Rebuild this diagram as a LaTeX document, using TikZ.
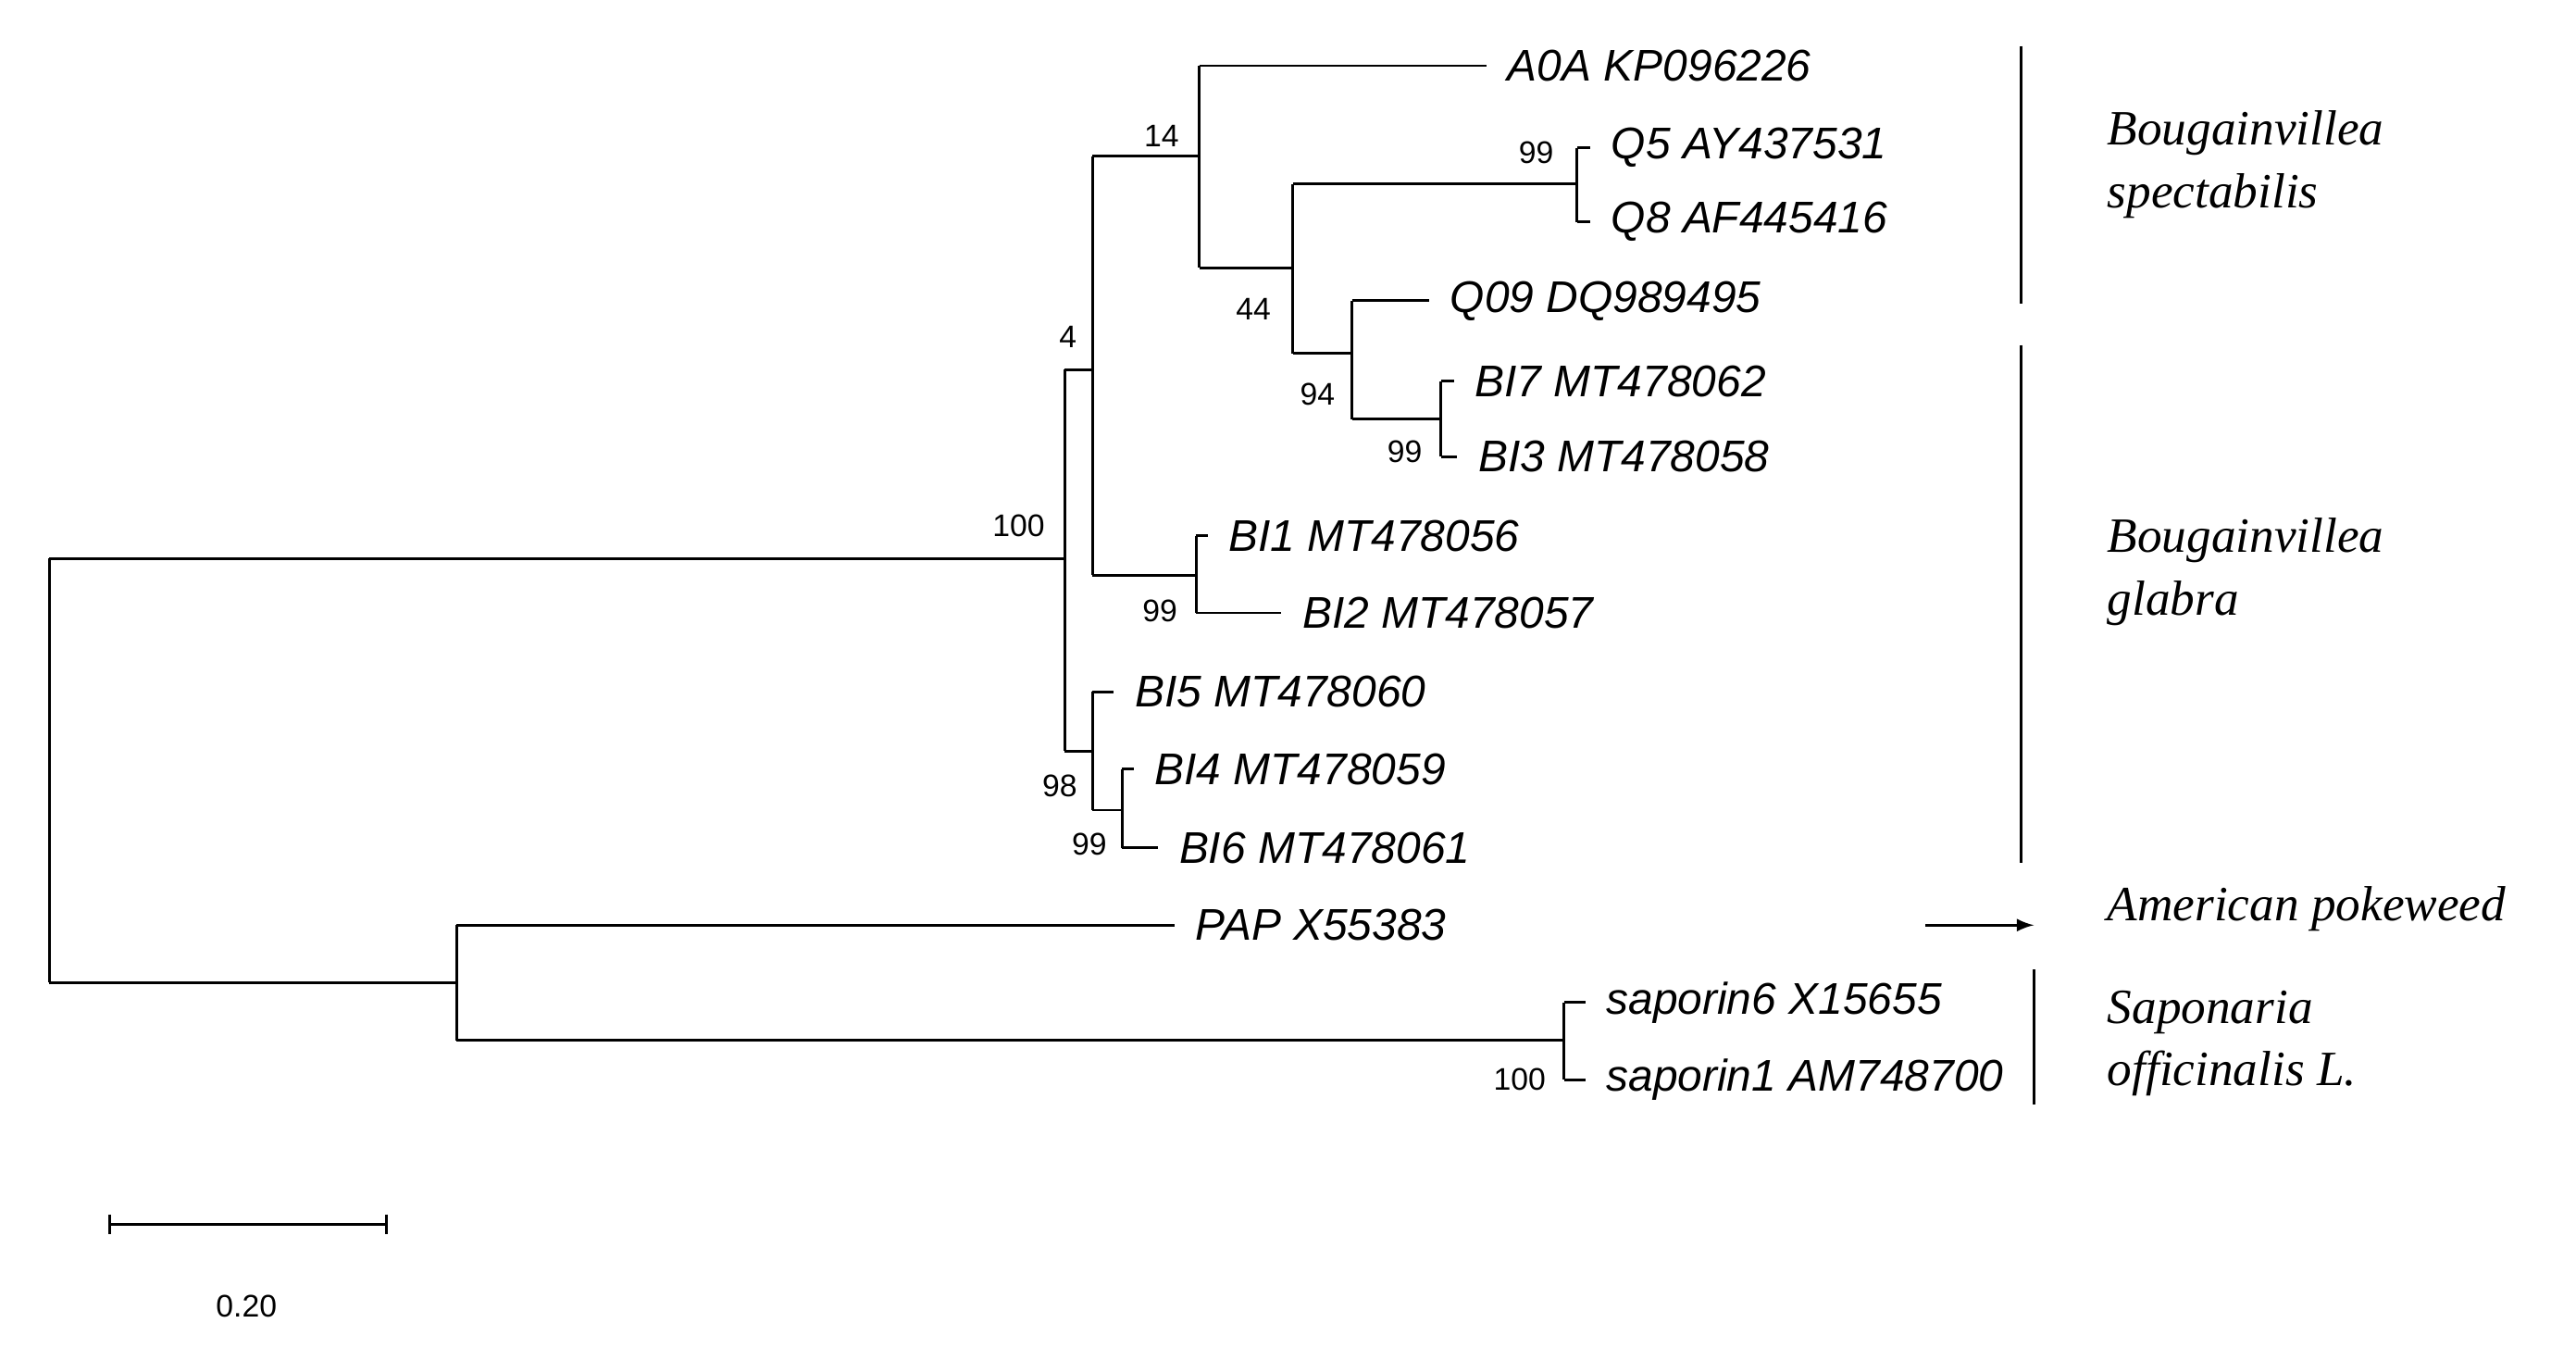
\documentclass[tikz,border=0pt]{standalone}
\usepackage{fontspec}
\setmainfont{Liberation Serif}
\setsansfont{Liberation Sans}
\begin{document}
\begin{tikzpicture}[x=0.5pt,y=-0.5pt,line width=0.8pt,
 leaf/.style={anchor=west,font=\sffamily\itshape\fontsize{13.5}{14}\selectfont,inner sep=0pt,xshift=6pt},
 bs/.style={font=\sffamily\fontsize{9.5}{10}\selectfont,inner sep=1pt},
 sp/.style={anchor=west,font=\itshape\fontsize{15}{19}\selectfont,align=left,inner sep=0pt}]
\useasboundingbox (0,0) rectangle (1568,820);
% root
\draw (30,340) -- (30,598);
\draw (30,340) -- (648,340); \draw (30,598) -- (278,598);
% Bougainvillea clade
\draw (648,225) -- (648,457);
\draw (648,225) -- (665,225); \draw (648,457) -- (665,457);
\draw (665,95) -- (665,350);
\draw (665,95) -- (730,95); \draw (665,350) -- (728,350);
\draw (730,40) -- (730,163);
\draw (730,40) -- (905,40); \draw (730,163) -- (787,163);
\draw (787,112) -- (787,215);
\draw (787,112) -- (960,112); \draw (787,215) -- (823,215);
\draw (960,90) -- (960,135);
\draw (960,90) -- (968,90); \draw (960,135) -- (968,135);
\draw (823,183) -- (823,255);
\draw (823,183) -- (870,183); \draw (823,255) -- (877,255);
\draw (877,232) -- (877,278);
\draw (877,232) -- (885,232); \draw (877,278) -- (887,278);
\draw (728,326) -- (728,373);
\draw (728,326) -- (735,326); \draw (728,373) -- (780,373);
\draw (665,421) -- (665,493);
\draw (665,421) -- (678,421); \draw (665,493) -- (683,493);
\draw (683,468) -- (683,516);
\draw (683,468) -- (690,468); \draw (683,516) -- (705,516);
% lower clade
\draw (278,563) -- (278,633);
\draw (278,563) -- (715,563); \draw (278,633) -- (952,633);
\draw (952,610) -- (952,657);
\draw (952,610) -- (965,610); \draw (952,657) -- (965,657);
% leaves
\node[leaf] (l1) at (905,40) {A0A KP096226};
\node[leaf] (l2) at (968,90) {Q5 AY437531};
\node[leaf] (l3) at (968,135) {Q8 AF445416};
\node[leaf] (l4) at (870,183) {Q09 DQ989495};
\node[leaf] (l5) at (885,232) {BI7 MT478062};
\node[leaf] (l6) at (887,278) {BI3 MT478058};
\node[leaf] (l7) at (735,326) {BI1 MT478056};
\node[leaf] (l8) at (780,373) {BI2 MT478057};
\node[leaf] (l9) at (678,421) {BI5 MT478060};
\node[leaf] (l10) at (690,468) {BI4 MT478059};
\node[leaf] (l11) at (705,516) {BI6 MT478061};
\node[leaf] (l12) at (715,563) {PAP X55383};
\node[leaf] (l13) at (965,610) {saporin6 X15655};
\node[leaf] (l14) at (965,657) {saporin1 AM748700};
% bootstrap
\node[bs] (b1) at (620,320) {100};
\node[bs] (b2) at (650,205) {4};
\node[bs] (b3) at (707,83) {14};
\node[bs] (b4) at (935,93) {99};
\node[bs] (b5) at (763,188) {44};
\node[bs] (b6) at (802,240) {94};
\node[bs] (b7) at (855,275) {99};
\node[bs] (b8) at (706,372) {99};
\node[bs] (b9) at (645,478) {98};
\node[bs] (b10) at (663,514) {99};
\node[bs] (b11) at (925,657) {100};
% species bars
\draw (1230,28) -- (1230,185);
\draw (1230,210) -- (1230,525);
\draw (1238,590) -- (1238,672);
\coordinate (a1) at (1172,563); \coordinate (a2) at (1238,563);
\draw[-latex] (a1) -- (a2);
\node[sp] (s1) at (1282,100) {Bougainvillea\\spectabilis};
\node[sp] (s2) at (1282,348) {Bougainvillea\\glabra};
\node[sp] (s3) at (1282,553) {American pokeweed};
\node[sp] (s4) at (1282,635) {Saponaria\\officinalis L.};
% scale
\draw (67,745) -- (235,745);
\draw (67,739) -- (67,751); \draw (235,739) -- (235,751);
\node[bs] (sc) at (150,795) {0.20};
\end{tikzpicture}
\end{document}
